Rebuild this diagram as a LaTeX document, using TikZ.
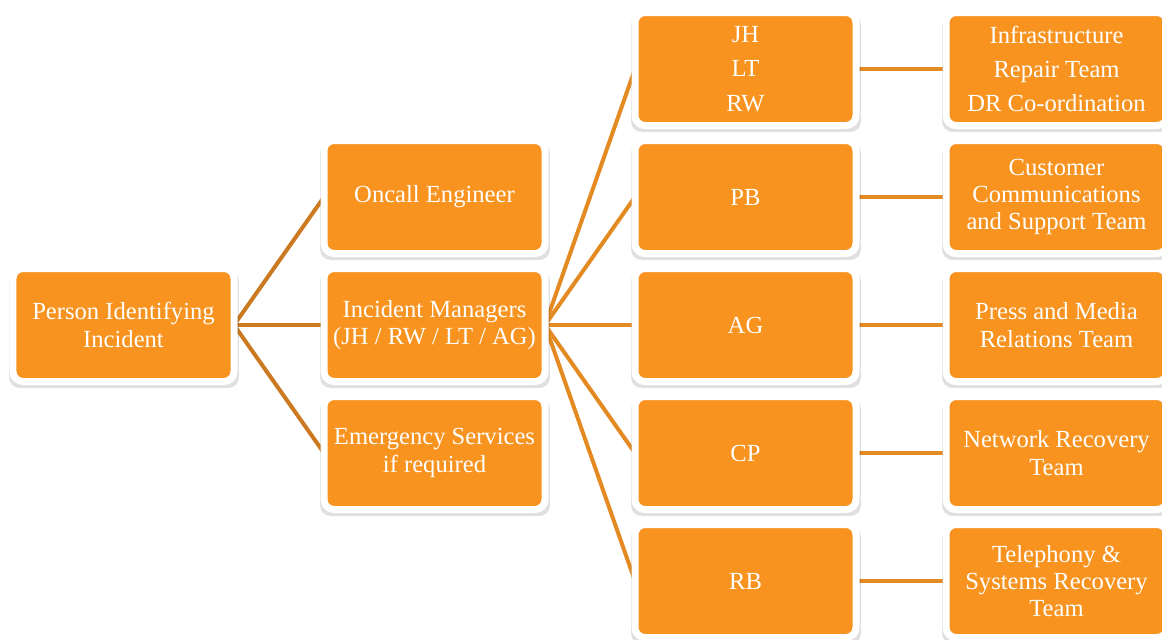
\documentclass[tikz,border=0pt]{standalone}
\usepackage{fontspec}
\setmainfont{Liberation Serif}
\usepackage{tikz}
\usetikzlibrary{positioning, backgrounds, shadows}

\definecolor{boxorange}{HTML}{F7931E}
\definecolor{linkdark}{HTML}{CC7A22}
\definecolor{linklight}{HTML}{E38B22}

\begin{document}
\begin{tikzpicture}[
        node distance=0.3cm and 1.8cm,
        box/.style={rectangle, draw=white, fill=boxorange, line width=0.14cm, outer sep=0pt, rounded corners=0.2cm, minimum width=4.42cm, minimum height=2.26cm, align=center, text=white, font=\fontsize{14}{15.5}\selectfont, drop shadow={shadow xshift=0.01cm, shadow yshift=-0.08cm, shadow scale=1.04, opacity=0.12, fill=black}},
        link/.style={line width=0.08cm}
    ]
        \useasboundingbox (-2.47,-6.28) rectangle (20.77,6.5);

        % first and second column
        \node[box] (person) {Person Identifying\\Incident};
        \node[box, right=of person] (incident) {Incident Managers\\(JH / RW / LT / AG)};
        \node[box, above=of incident] (oncall) {Oncall Engineer};
        \node[box, below=of incident] (emergency) {Emergency Services\\if required};

        % managers
        \node[box, right=of incident] (ag) {AG};
        \node[box, above=of ag] (pb) {PB};
        \node[box, above=of pb] (jh) {JH\\[4pt]LT\\[4pt]RW};
        \node[box, below=of ag] (cp) {CP};
        \node[box, below=of cp] (rb) {RB};

        % teams
        \node[box, right=of jh] (infra) {Infrastructure\\[4pt]Repair Team\\[4pt]DR Co-ordination};
        \node[box, right=of pb] (comms) {Customer\\Communications\\and Support Team};
        \node[box, right=of ag] (press) {Press and Media\\Relations Team};
        \node[box, right=of cp] (network) {Network Recovery\\Team};
        \node[box, right=of rb] (telephony) {Telephony \&\\Systems Recovery\\Team};

        \begin{scope}[on background layer]
            \foreach \to in {oncall, incident, emergency}
                \draw[link, linkdark] (person.east) -- (\to.west);
            \foreach \to in {jh, pb, ag, cp, rb}
                \draw[link, linklight] (incident.east) -- (\to.west);
            \draw[link, linklight] (jh) -- (infra);
            \draw[link, linklight] (pb) -- (comms);
            \draw[link, linklight] (ag) -- (press);
            \draw[link, linklight] (cp) -- (network);
            \draw[link, linklight] (rb) -- (telephony);
        \end{scope}
    \end{tikzpicture}
\end{document}
